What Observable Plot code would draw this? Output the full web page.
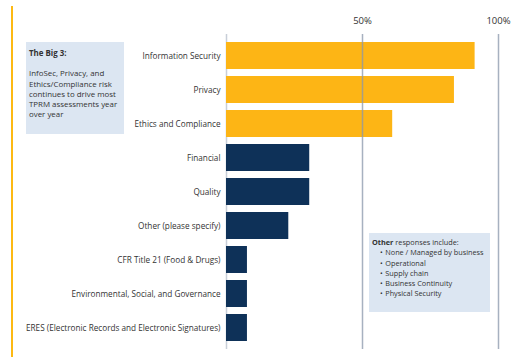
<!DOCTYPE html>
<html>
<head>
<meta charset="utf-8">
<script src="https://cdn.jsdelivr.net/npm/d3@7"></script>
<script src="https://cdn.jsdelivr.net/npm/@observablehq/plot@0.6"></script>
<style>
  html, body { margin: 0; padding: 0; background: #fff; }
  #wrap { position: relative; width: 512px; height: 364px; font-family: "Open Sans", sans-serif; color: #333; }
  #chart { position: absolute; left: 0; top: 0; }
  .orangeLine { position: absolute; left: 11px; top: 6px; width: 2px; height: 351px; background: #FDB913; }
  .box { position: absolute; background: #DCE6F2; line-height: 10.3px; color: #333; box-sizing: border-box; }
  #big3 { left: 26px; top: 42px; width: 98px; height: 92px; padding: 6px 3px; font-size: 7.9px; }
  #other { left: 369px; top: 233px; width: 121px; height: 79px; padding: 4px 3px; font-size: 7.3px; white-space: nowrap; }
  #other ul { margin: 0; padding: 0 0 0 8px; list-style: none; }
  #other li::before { content: "\2022"; margin-right: 2.5px; }
</style>
</head>
<body>
<div id="wrap">
  <div class="orangeLine"></div>
  <div id="chart"></div>
  <div class="box" id="big3"><b>The Big 3:</b><div style="height:10px"></div>InfoSec, Privacy, and<br>Ethics/Compliance risk<br>continues to drive most<br>TPRM assessments year<br>over year</div>
  <div class="box" id="other"><b>Other</b> responses include:
    <ul>
      <li>None / Managed by business</li>
      <li>Operational</li>
      <li>Supply chain</li>
      <li>Business Continuity</li>
      <li>Physical Security</li>
    </ul>
  </div>
</div>
<script>
const categories = [
  "Information Security",
  "Privacy",
  "Ethics and Compliance",
  "Financial",
  "Quality",
  "Other (please specify)",
  "CFR Title 21 (Food & Drugs)",
  "Environmental, Social, and Governance",
  "ERES (Electronic Records and Electronic Signatures)"
];
const values = [91.4, 83.8, 61.1, 30.6, 30.6, 22.9, 7.7, 7.7, 7.7];
const groups = ["Big 3", "Big 3", "Big 3", "Rest", "Rest", "Rest", "Rest", "Rest", "Rest"];
const tickValues = [50, 100];
const tickLabels = ["50%", "100%"];

const data = categories.map((c, i) => ({category: c, value: values[i], group: groups[i]}));

const chart = Plot.plot({
  width: 512,
  height: 364,
  marginLeft: 226,
  marginRight: 14,
  marginTop: 34,
  marginBottom: 15,
  style: {fontFamily: "Open Sans, sans-serif", fontSize: "8.2px", color: "#333", background: "transparent"},
  x: {domain: [0, 100]},
  y: {domain: categories, padding: 0.22},
  color: {domain: ["Big 3", "Rest"], range: ["#FDB515", "#0E3158"]},
  marks: [
    Plot.ruleX([0], {stroke: "#C8CED8", strokeWidth: 1.5}),
    Plot.barX(data, {x: "value", y: "category", fill: "group"}),
    Plot.ruleX(tickValues, {stroke: "#8A97AB", strokeWidth: 1.5, strokeOpacity: 0.75}),
    Plot.axisX({anchor: "top", ticks: tickValues, tickFormat: (d) => tickLabels[tickValues.indexOf(d)], tickSize: 0, tickPadding: 11, fontSize: 9.5, label: null}),
    Plot.axisY({tickSize: 0, tickPadding: 6, label: null})
  ]
});
document.getElementById("chart").appendChild(chart);
</script>
</body>
</html>
